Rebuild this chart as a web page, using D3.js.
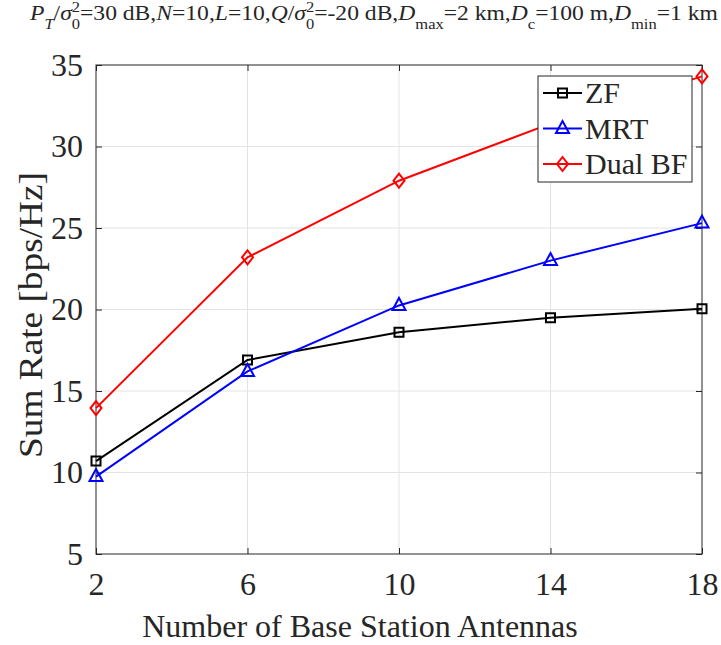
<!DOCTYPE html>
<html>
<head>
<meta charset="utf-8">
<script src="https://cdn.jsdelivr.net/npm/d3@7"></script>
<style>
  body { margin: 0; background: #fff; }
  text { font-family: "Liberation Serif", "Times New Roman", serif; fill: #262626; }
</style>
</head>
<body>
<script>
// chart data
var antennas = [2, 6, 10, 14, 18];
var zf = [10.7, 16.9, 18.6, 19.5, 20.05];
var mrt = [9.75, 16.2, 20.25, 23.0, 25.3];
var dualBF = [13.95, 23.2, 27.9, 31.4, 34.3];
var xTicks = [2, 6, 10, 14, 18];
var yTicks = [5, 10, 15, 20, 25, 30, 35];

var W = 721, H = 645;
var plotL = 96, plotR = 702, plotT = 65, plotB = 554;

var svg = d3.select("body")
    .append("svg")
    .attr("width", W)
    .attr("height", H);

var x = d3.scaleLinear().domain([2, 18]).range([plotL, plotR]);
var y = d3.scaleLinear().domain([5, 35]).range([plotB, plotT]);

// grid
svg.append("g").selectAll("line")
    .data(xTicks.slice(1, -1))
    .enter().append("line")
    .attr("x1", d => x(d)).attr("x2", d => x(d))
    .attr("y1", plotT).attr("y2", plotB)
    .attr("stroke", "#e3e3e3").attr("stroke-width", 1);
svg.append("g").selectAll("line")
    .data(yTicks.slice(1, -1))
    .enter().append("line")
    .attr("y1", d => y(d)).attr("y2", d => y(d))
    .attr("x1", plotL).attr("x2", plotR)
    .attr("stroke", "#e3e3e3").attr("stroke-width", 1);

// axes (ticks inside, MATLAB style)
svg.append("g")
    .attr("transform", "translate(0," + plotB + ")")
    .call(d3.axisBottom(x).tickValues(xTicks).tickSizeInner(-6).tickSizeOuter(0).tickPadding(18))
    .call(g => g.select(".domain").remove())
    .selectAll("text").attr("font-size", 32).attr("fill", "#262626");
svg.append("g")
    .attr("transform", "translate(0," + plotT + ")")
    .call(d3.axisTop(x).tickValues(xTicks).tickSizeInner(-6).tickSizeOuter(0).tickFormat(""))
    .call(g => g.select(".domain").remove());
svg.append("g")
    .attr("transform", "translate(" + plotL + ",0)")
    .call(d3.axisLeft(y).tickValues(yTicks).tickSizeInner(-6).tickSizeOuter(0).tickPadding(13))
    .call(g => g.select(".domain").remove())
    .selectAll("text").attr("font-size", 32).attr("fill", "#262626");
svg.append("g")
    .attr("transform", "translate(" + plotR + ",0)")
    .call(d3.axisRight(y).tickValues(yTicks).tickSizeInner(-6).tickSizeOuter(0).tickFormat(""))
    .call(g => g.select(".domain").remove());
svg.selectAll(".tick line").attr("stroke", "#262626");

// box
svg.append("rect")
    .attr("x", plotL).attr("y", plotT)
    .attr("width", plotR - plotL).attr("height", plotB - plotT)
    .attr("fill", "none").attr("stroke", "#262626").attr("stroke-width", 1);

// series
var series = [
    {name: "ZF", values: zf, color: "#000000", marker: "square"},
    {name: "MRT", values: mrt, color: "#0000ff", marker: "triangle"},
    {name: "Dual BF", values: dualBF, color: "#ff0000", marker: "diamond"}
];

var line = d3.line()
    .x((d, i) => x(antennas[i]))
    .y(d => y(d));

function markerPath(type) {
    if (type == "square") return "M-4.5,-4.5L4.5,-4.5L4.5,4.5L-4.5,4.5Z";
    if (type == "triangle") return "M0,-7.5L6.5,4.5L-6.5,4.5Z";
    return "M0,-7L5.5,0L0,7L-5.5,0Z";
}

series.forEach(function(s) {
    svg.append("path")
        .datum(s.values)
        .attr("d", line)
        .attr("fill", "none")
        .attr("stroke", s.color)
        .attr("stroke-width", 2);
    svg.append("g").selectAll("path")
        .data(s.values)
        .enter().append("path")
        .attr("transform", (d, i) => "translate(" + x(antennas[i]) + "," + y(d) + ")")
        .attr("d", markerPath(s.marker))
        .attr("fill", "none")
        .attr("stroke", s.color)
        .attr("stroke-width", 2);
});

// legend
var legend = svg.append("g").attr("transform", "translate(538,76)");
legend.append("rect")
    .attr("width", 154).attr("height", 106)
    .attr("fill", "#fff").attr("stroke", "#262626").attr("stroke-width", 1);
series.forEach(function(s, i) {
    var ly = 17 + i * 35.5;
    legend.append("line")
        .attr("x1", 5).attr("x2", 44).attr("y1", ly).attr("y2", ly)
        .attr("stroke", s.color).attr("stroke-width", 2);
    legend.append("path")
        .attr("transform", "translate(24.5," + ly + ")")
        .attr("d", markerPath(s.marker))
        .attr("fill", "none").attr("stroke", s.color).attr("stroke-width", 2);
    legend.append("text")
        .attr("x", 47).attr("y", ly + 10)
        .attr("font-size", 30)
        .attr("fill", "#000")
        .text(s.name);
});

// axis titles
svg.append("text")
    .attr("x", 360).attr("y", 637)
    .attr("text-anchor", "middle")
    .attr("font-size", 32)
    .text("Number of Base Station Antennas");
svg.append("text")
    .attr("transform", "translate(42,315) rotate(-90)")
    .attr("x", -143)
    .attr("font-size", 33)
    .attr("textLength", 286)
    .attr("lengthAdjust", "spacingAndGlyphs")
    .text("Sum Rate [bps/Hz]");

// title
var title = svg.append("g")
    .attr("transform", "translate(30,20) scale(1.18,1)")
    .append("text")
    .attr("font-size", 20)
    .attr("fill", "#000");
function part(txt, opts) {
    var t = title.append("tspan").text(txt);
    if (opts) Object.keys(opts).forEach(k => t.attr(k, opts[k]));
    return t;
}
part("P", {"font-style": "italic"});
part("T", {"font-style": "italic", "font-size": 14, "dy": 9});
part("/", {"dy": -9});
part("σ", {"font-style": "italic"});
part("2", {"font-size": 14, "dy": -8});
part("0", {"font-size": 14, "dy": 17, "dx": -7});
part("=30 dB,", {"dy": -9});
part("N", {"font-style": "italic"});
part("=10,");
part("L", {"font-style": "italic"});
part("=10,");
part("Q", {"font-style": "italic"});
part("/");
part("σ", {"font-style": "italic"});
part("2", {"font-size": 14, "dy": -8});
part("0", {"font-size": 14, "dy": 17, "dx": -7});
part("=-20 dB,", {"dy": -9});
part("D", {"font-style": "italic"});
part("max", {"font-size": 14, "dy": 9});
part("=2 km,", {"dy": -9});
part("D", {"font-style": "italic"});
part("c", {"font-size": 14, "dy": 9});
part("=100 m,", {"dy": -9});
part("D", {"font-style": "italic"});
part("min", {"font-size": 14, "dy": 9});
part("=1 km", {"dy": -9});
</script>
</body>
</html>
